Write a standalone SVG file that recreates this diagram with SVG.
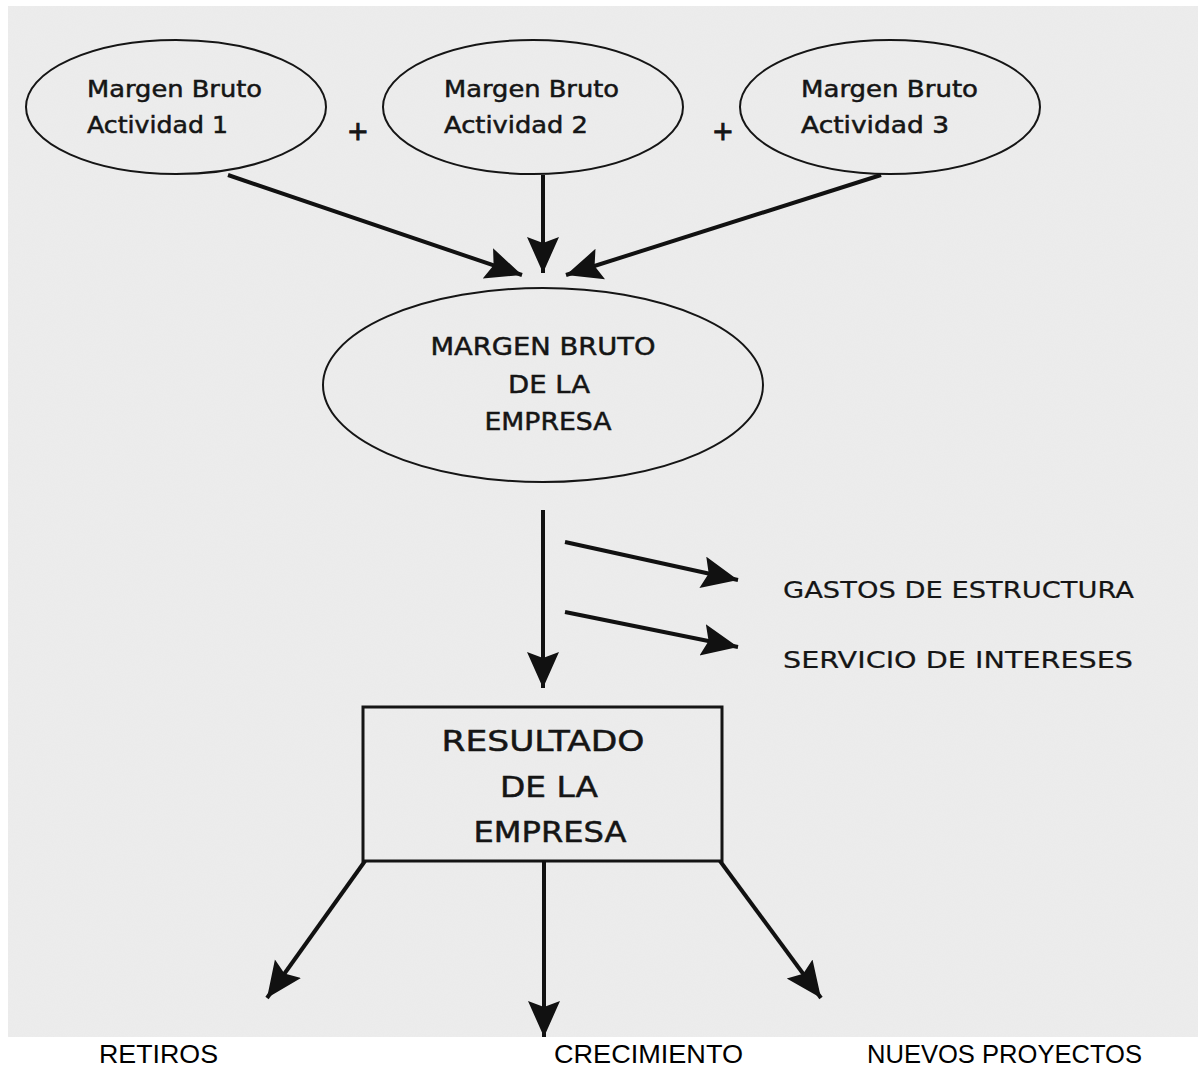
<svg xmlns="http://www.w3.org/2000/svg" width="1198" height="1068" viewBox="0 0 1198 1068">
<defs>
<marker id="ah" markerUnits="userSpaceOnUse" markerWidth="38" markerHeight="34" refX="36" refY="16" orient="auto" viewBox="0 0 38 34">
<path d="M0,0 L36,16 L0,32 L6,16 z" fill="#111"/>
</marker>
<filter id="grain" x="0" y="0" width="100%" height="100%">
<feTurbulence type="fractalNoise" baseFrequency="0.9" numOctaves="2" seed="3" result="n"/>
<feColorMatrix type="matrix" values="0 0 0 0 0.5  0 0 0 0 0.5  0 0 0 0 0.5  0 0 0 0.06 0" in="n"/>
</filter>
</defs>
<style>
.bg{fill:#ededed}
.shape{fill:none;stroke:#151515;stroke-width:2}
.box{fill:none;stroke:#151515;stroke-width:3}
.edge{stroke:#111;stroke-width:4;fill:none;marker-end:url(#ah)}
.t{font-family:"DejaVu Sans","Liberation Sans",sans-serif;fill:#151515;stroke:#151515;stroke-width:0.5}
.small{font-size:23px}
.mid{font-size:25px;text-anchor:middle}
.big{font-size:29px;text-anchor:middle}
.plus{font-size:26px;text-anchor:middle;stroke-width:1}
.lbl{font-family:"Liberation Sans",Arial,sans-serif;font-size:25px;fill:#000}
</style>
<rect x="0" y="0" width="1198" height="1068" fill="#ffffff"/>
<rect class="bg" x="8" y="6" width="1190" height="1031"/>
<rect x="8" y="6" width="1190" height="1031" filter="url(#grain)"/>

<g id="mb1">
<ellipse class="shape" cx="176" cy="107" rx="150" ry="67"/>
<text class="t small" x="87" y="97" textLength="175" lengthAdjust="spacingAndGlyphs">Margen Bruto</text>
<text class="t small" x="87" y="133" textLength="141" lengthAdjust="spacingAndGlyphs">Actividad 1</text>
</g>
<g id="plus1"><text class="t plus" x="358" y="140">+</text></g>
<g id="mb2">
<ellipse class="shape" cx="533" cy="107" rx="150" ry="67"/>
<text class="t small" x="444" y="97" textLength="175" lengthAdjust="spacingAndGlyphs">Margen Bruto</text>
<text class="t small" x="444" y="133" textLength="144" lengthAdjust="spacingAndGlyphs">Actividad 2</text>
</g>
<g id="plus2"><text class="t plus" x="723" y="140">+</text></g>
<g id="mb3">
<ellipse class="shape" cx="890" cy="107" rx="150" ry="67"/>
<text class="t small" x="801" y="97" textLength="177" lengthAdjust="spacingAndGlyphs">Margen Bruto</text>
<text class="t small" x="801" y="133" textLength="148" lengthAdjust="spacingAndGlyphs">Actividad 3</text>
</g>

<g id="mbe">
<ellipse class="shape" cx="543" cy="385" rx="220" ry="97"/>
<text class="t mid" x="543" y="355" textLength="225" lengthAdjust="spacingAndGlyphs">MARGEN BRUTO</text>
<text class="t mid" x="549" y="393" textLength="82" lengthAdjust="spacingAndGlyphs">DE LA</text>
<text class="t mid" x="548" y="430" textLength="127" lengthAdjust="spacingAndGlyphs">EMPRESA</text>
</g>

<g id="gastos"><text class="t small" x="783" y="598" textLength="351" lengthAdjust="spacingAndGlyphs" style="stroke-width:0.2">GASTOS DE ESTRUCTURA</text></g>
<g id="servicio"><text class="t small" x="783" y="668" textLength="350" lengthAdjust="spacingAndGlyphs" style="stroke-width:0.2">SERVICIO DE INTERESES</text></g>

<g id="resultado">
<rect class="box" x="363" y="707" width="359" height="154"/>
<text class="t big" x="543" y="751" textLength="203" lengthAdjust="spacingAndGlyphs">RESULTADO</text>
<text class="t big" x="549" y="797" textLength="98" lengthAdjust="spacingAndGlyphs">DE LA</text>
<text class="t big" x="550" y="842" textLength="153" lengthAdjust="spacingAndGlyphs">EMPRESA</text>
</g>

<g id="retiros"><text class="lbl" x="99" y="1063" textLength="119" lengthAdjust="spacingAndGlyphs">RETIROS</text></g>
<g id="crecimiento"><text class="lbl" x="554" y="1063" textLength="189" lengthAdjust="spacingAndGlyphs">CRECIMIENTO</text></g>
<g id="nuevos"><text class="lbl" x="867" y="1063" textLength="275" lengthAdjust="spacingAndGlyphs">NUEVOS PROYECTOS</text></g>

<g id="connectors">
<line class="edge" x1="228" y1="175" x2="522" y2="275"/>
<line class="edge" x1="543" y1="175" x2="543" y2="273"/>
<line class="edge" x1="881" y1="175" x2="566" y2="275"/>
<line class="edge" x1="543" y1="510" x2="543" y2="688"/>
<line class="edge" x1="565" y1="542" x2="738" y2="580"/>
<line class="edge" x1="565" y1="612" x2="738" y2="647"/>
<line class="edge" x1="365" y1="861" x2="267" y2="998"/>
<line class="edge" x1="544" y1="861" x2="544" y2="1037"/>
<line class="edge" x1="720" y1="861" x2="821" y2="998"/>
</g>
</svg>
